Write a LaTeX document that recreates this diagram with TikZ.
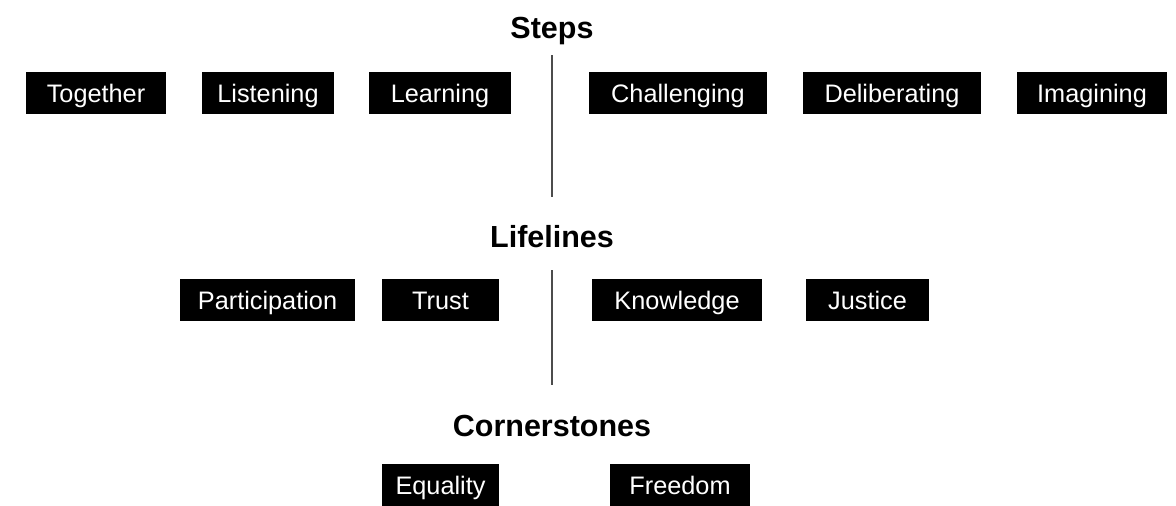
\documentclass[tikz,border=0pt]{standalone}
\usepackage{fontspec}
\setmainfont{Liberation Sans}
\begin{document}
\begin{tikzpicture}[x=1pt,y=-1pt,
  tag/.style={fill=black,text=white,inner sep=0pt,minimum height=42pt,
    font=\fontsize{25.3}{28}\selectfont,text height=18pt,text depth=0pt},
  heading/.style={font=\fontsize{30.5}{34}\selectfont\bfseries,anchor=base,inner sep=0pt},
  divider/.style={draw=black!70,line width=1.5pt}]
\useasboundingbox (0,0) rectangle (1176,506);

% headings
\node[heading] (steps) at (552,38) {Steps};
\node[heading] (lifelines) at (552,247) {Lifelines};
\node[heading] (cornerstones) at (552,436) {Cornerstones};

% steps row
\node[tag,minimum width=140pt] (together) at (96,93) {Together};
\node[tag,minimum width=132pt] (listening) at (268,93) {Listening};
\node[tag,minimum width=142pt] (learning) at (440,93) {Learning};
\node[tag,minimum width=178pt] (challenging) at (678,93) {Challenging};
\node[tag,minimum width=178pt] (deliberating) at (892,93) {Deliberating};
\node[tag,minimum width=150pt] (imagining) at (1092,93) {Imagining};

% lifelines row
\node[tag,minimum width=175pt] (participation) at (267.5,300) {Participation};
\node[tag,minimum width=117pt] (trust) at (440.5,300) {Trust};
\node[tag,minimum width=170pt] (knowledge) at (677,300) {Knowledge};
\node[tag,minimum width=123pt] (justice) at (867.5,300) {Justice};

% cornerstones row
\node[tag,minimum width=117pt] (equality) at (440.5,485) {Equality};
\node[tag,minimum width=140pt] (freedom) at (680,485) {Freedom};

% central dividers
\coordinate (d1top) at (552,55);
\coordinate (d1bot) at (552,197);
\coordinate (d2top) at (552,270);
\coordinate (d2bot) at (552,385);
\draw[divider] (d1top) -- (d1bot);
\draw[divider] (d2top) -- (d2bot);
\end{tikzpicture}
\end{document}
